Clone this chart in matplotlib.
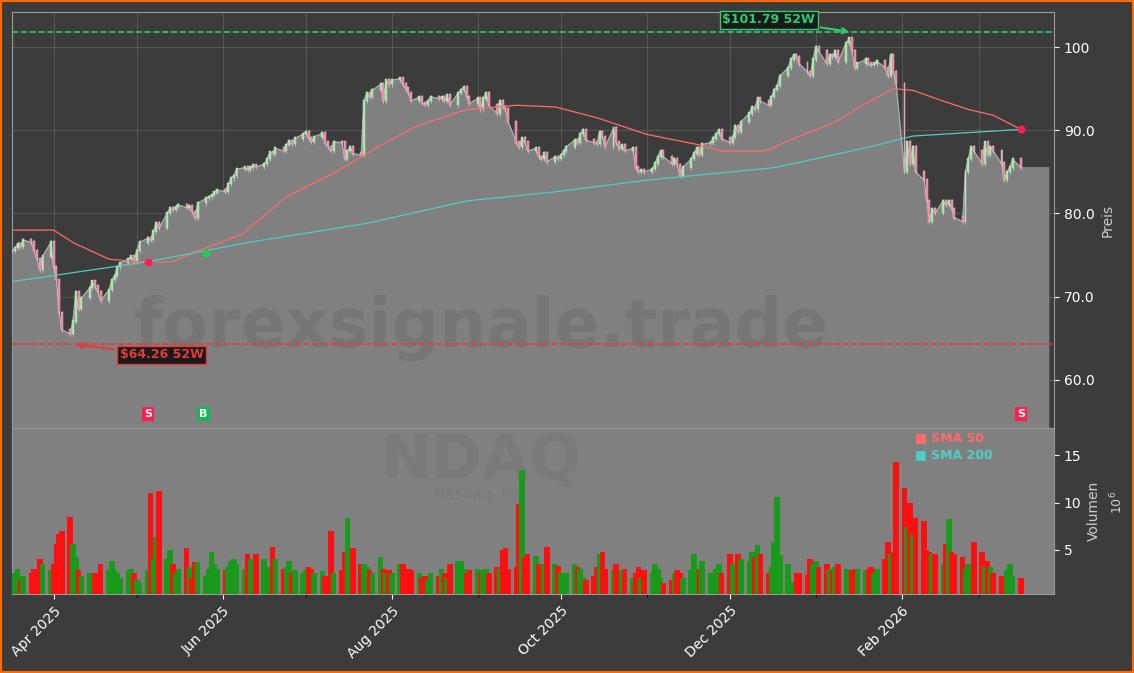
import matplotlib
matplotlib.use("Agg")
import matplotlib.pyplot as plt
import matplotlib.dates as mdates
import numpy as np
import pandas as pd

# Daily closes, Mar 17 2025 .. Mar 2026
closes = [
    75.5, 75.8, 76.3, 76.0, 76.8, 76.5, 75.5, 74.5, 73.2, 74.8,
    76.5, 73.5, 72.0, 68.0, 66.0, 65.5, 67.0, 70.5, 68.5, 69.8,
    71.0, 71.8, 71.2, 70.5, 69.5, 70.8, 72.0, 72.5, 73.5, 74.0,
    74.5, 74.8, 74.2, 75.5, 76.5, 77.0, 76.8, 77.8, 78.8, 78.2,
    80.0, 80.6, 80.4, 80.8, 81.0, 80.7, 80.9, 80.2, 79.5, 81.2,
    81.8, 82.0, 82.2, 82.5, 82.8, 82.6, 83.5, 84.2, 84.5, 85.3,
    85.5, 85.2, 85.5, 85.8, 85.6, 85.9, 86.5, 87.3, 87.2, 87.8,
    87.5, 88.2, 88.7, 88.3, 89.0, 89.5, 89.8, 89.0, 88.6, 89.2,
    89.6, 88.5, 88.0, 87.5, 88.6, 88.5, 86.5, 87.5, 88.0, 87.2,
    87.0, 93.5, 94.5, 94.0, 94.8, 95.5, 93.5, 96.0, 95.5, 96.0,
    96.2, 95.5, 95.0, 94.5, 93.5, 94.0, 93.3, 93.0, 93.5, 94.0,
    93.8, 94.0, 93.5, 94.2, 93.0, 94.5, 94.8, 95.2, 94.0, 93.2,
    93.8, 92.5, 93.8, 94.5, 93.0, 92.0, 93.5, 92.8, 92.5, 91.0,
    88.5, 88.0, 89.0, 88.5, 87.5, 87.8, 86.8, 86.5, 87.2, 86.2,
    86.8, 86.5, 87.0, 87.5, 88.0, 88.8, 88.5, 89.5, 90.0, 88.8,
    88.5, 88.3, 89.8, 89.2, 88.0, 90.2, 88.5, 87.8, 88.2, 87.5,
    87.8, 85.5, 85.0, 85.2, 85.0, 85.3, 86.0, 86.8, 87.5, 86.8,
    86.0, 86.5, 85.8, 84.5, 85.5, 86.5, 87.2, 87.8, 87.0, 88.3,
    88.5, 89.0, 89.5, 90.0, 89.0, 88.5, 89.2, 90.5, 89.8, 91.0,
    92.0, 92.8, 92.5, 93.8, 93.5, 93.0, 94.0, 94.8, 95.3, 96.5,
    97.5, 98.5, 99.0, 98.8, 98.0, 97.0, 96.5, 98.5, 100.0, 99.5,
    98.0, 99.0, 98.8, 99.5, 98.2, 100.5, 101.0, 99.5, 97.5, 98.0,
    98.5, 98.0, 97.8, 98.0, 98.3, 97.5, 96.5, 99.0, 97.0, 95.5,
    85.0, 88.5, 86.0, 88.0, 85.0, 84.0, 81.5, 79.0, 80.5, 80.0,
    81.5, 81.0, 81.5, 80.5, 79.5, 79.0, 85.0, 86.5, 88.0, 87.5,
    86.0, 88.5, 87.0, 88.0, 87.5, 86.0, 84.0, 85.0, 85.5, 86.5, 85.5,
]

# Volume in millions
volumes = [
    2.5, 2.2, 3.0, 1.8, 2.2, 2.5, 3.0, 2.5, 4.0, 3.5,
    2.8, 3.5, 5.6, 6.7, 7.0, 8.5, 5.6, 4.2, 2.8, 2.2,
    2.5, 2.0, 2.5, 2.2, 3.5, 2.8, 3.8, 2.8, 2.5, 2.0,
    2.8, 3.0, 2.5, 1.8, 1.5, 2.8, 11.0, 4.0, 6.3, 11.2,
    4.0, 5.0, 3.5, 2.5, 3.0, 5.2, 3.2, 2.0, 3.7, 3.7,
    2.2, 3.0, 4.8, 3.5, 3.0, 2.8, 3.2, 3.8, 4.0, 3.5,
    3.0, 4.5, 4.0, 3.5, 4.5, 4.0, 3.2, 2.8, 5.3, 4.0,
    3.0, 3.2, 3.8, 2.5, 2.8, 2.5, 2.8, 3.2, 3.0, 2.5,
    2.7, 2.2, 2.0, 7.0, 2.5, 2.8, 4.8, 8.4, 5.2, 5.2,
    3.5, 3.5, 3.2, 2.8, 2.5, 4.2, 3.0, 2.5, 2.8, 2.5,
    3.5, 3.5, 2.5, 3.0, 2.8, 2.5, 2.0, 2.2, 1.8, 2.5,
    2.2, 3.0, 2.5, 2.0, 3.5, 3.8, 3.8, 3.0, 2.5, 2.8,
    3.0, 2.5, 2.8, 3.0, 2.5, 3.2, 3.0, 5.0, 5.2, 3.0,
    3.2, 9.8, 13.4, 4.2, 4.5, 4.3, 3.5, 2.8, 3.5, 5.3,
    3.5, 3.3, 2.5, 2.0, 2.5, 3.5, 3.2, 3.0, 2.0, 1.8,
    2.2, 3.2, 4.5, 4.8, 3.0, 2.8, 3.5, 2.8, 2.8, 3.0,
    2.0, 2.5, 3.2, 2.0, 2.8, 2.5, 3.5, 3.0, 2.0, 1.5,
    1.8, 2.5, 2.8, 2.5, 2.0, 2.8, 4.5, 3.0, 2.8, 3.8,
    2.5, 2.3, 3.0, 3.5, 2.5, 4.5, 3.5, 2.6, 4.5, 4.0,
    3.8, 4.8, 4.2, 5.5, 4.5, 2.5, 3.2, 5.8, 10.6, 4.4,
    3.5, 1.6, 1.5, 2.5, 2.5, 2.3, 4.0, 3.5, 3.8, 3.2,
    3.5, 3.0, 2.8, 3.2, 3.5, 3.0, 2.2, 2.8, 3.0, 3.0,
    2.8, 3.0, 3.2, 2.5, 3.0, 4.0, 5.8, 4.5, 4.8, 14.3,
    11.5, 7.4, 10.0, 6.6, 8.4, 8.0, 5.0, 4.8, 4.5, 4.5,
    3.5, 5.6, 8.3, 4.8, 4.5, 4.2, 3.0, 3.5, 3.3, 5.8,
    4.7, 3.3, 3.8, 3.2, 2.5, 2.2, 2.0, 2.8, 3.5, 2.2, 2.0,
]

# Moving averages
sma50_dates = ["2025-03-17", "2025-04-01", "2025-04-08", "2025-04-21", "2025-05-05",
               "2025-05-14", "2025-05-23", "2025-06-08", "2025-06-24", "2025-07-12",
               "2025-07-27", "2025-08-10", "2025-08-28", "2025-09-15", "2025-09-29",
               "2025-10-14", "2025-11-01", "2025-11-19", "2025-11-28", "2025-12-14",
               "2025-12-24", "2026-01-08", "2026-01-18", "2026-01-29", "2026-02-05",
               "2026-02-16", "2026-02-25", "2026-03-06", "2026-03-16"]
sma50_vals = [78.0, 78.0, 76.5, 74.5, 74.1, 74.2, 75.5, 77.5, 82.0, 85.0,
              88.0, 90.5, 92.5, 93.0, 92.8, 91.5, 89.5, 88.3, 87.5, 87.5,
              89.0, 91.0, 93.0, 95.0, 94.8, 93.5, 92.5, 91.8, 90.1]
sma200_dates = ["2025-03-17", "2025-05-05", "2025-06-10", "2025-07-23", "2025-08-28",
                "2025-09-29", "2025-11-01", "2025-12-17", "2026-01-18", "2026-02-05",
                "2026-03-16"]
sma200_vals = [71.8, 74.2, 76.5, 78.8, 81.5, 82.6, 84.0, 85.5, 87.8, 89.3, 90.1]

high_52w = 101.79
low_52w = 64.26

dates = pd.bdate_range("2025-03-17", periods=len(closes))
x = mdates.date2num(dates)
c = np.array(closes)
o = np.concatenate([[c[0]], c[:-1]])
v = np.array(volumes)
up = c >= o

BG = "#3c3c3c"
fig = plt.figure(figsize=(11.34, 6.73), dpi=100, facecolor=BG)
fig.patches.append(plt.Rectangle((0, 0), 1, 1, transform=fig.transFigure,
                                 fill=False, edgecolor="#ff6a00", linewidth=3))
ax = fig.add_axes([0.0106, 0.364, 0.919, 0.618], facecolor=BG)
axv = fig.add_axes([0.0106, 0.1174, 0.919, 0.2466], facecolor="#808080", sharex=ax)

# area under price
xf = np.append(x, x[-1] + 10)
cf = np.append(c, c[-1])
ax.fill_between(xf, cf, 0, color="#808080", zorder=1)
ax.plot(x, c, color="#b0b0b0", lw=0.8, zorder=2)

# candles
body_col = np.where(up, "#90ee90", "#ff6f96")
ax.vlines(x, np.minimum(o, c) - 0.25, np.maximum(o, c) + 0.25, color="#cfcfcf", lw=0.5, zorder=3)
ax.bar(x, np.abs(c - o) + 0.15, bottom=np.minimum(o, c), width=0.7,
       color=body_col, edgecolor="#e0e0e0", linewidth=0.3, zorder=4)

# SMAs
s50x = mdates.date2num(pd.to_datetime(sma50_dates))
s200x = mdates.date2num(pd.to_datetime(sma200_dates))
ax.plot(s50x, sma50_vals, color="#ff6b6b", lw=0.9, zorder=5)
ax.plot(s200x, sma200_vals, color="#4ecdc4", lw=0.9, zorder=5)
ax.scatter(mdates.date2num(pd.to_datetime(["2025-05-05", "2026-03-16"])), [74.1, 90.1],
           color="#ff1e50", s=22, zorder=6)
ax.scatter(mdates.date2num(pd.to_datetime(["2025-05-26"])), [75.3], color="#22cc55", s=22, zorder=6)

# 52 week lines
ax.axhline(high_52w, color="#2ecc71", ls="--", lw=1.2, zorder=5)
ax.axhline(low_52w, color="#e03c3c", ls="--", lw=1.2, zorder=5)
ax.annotate(f"${high_52w:.2f} 52W", xy=(mdates.date2num(pd.Timestamp("2026-01-14")), high_52w),
            xytext=(mdates.date2num(pd.Timestamp("2025-12-15")), 103.3),
            color="#2ecc71", fontsize=9, fontweight="bold", ha="center", va="center",
            bbox=dict(boxstyle="square,pad=0.2", fc="#1a1a1a", ec="#2ecc71"),
            arrowprops=dict(arrowstyle="->", color="#2ecc71", lw=1.5), zorder=7)
ax.annotate(f"${low_52w:.2f} 52W", xy=(mdates.date2num(pd.Timestamp("2025-04-08")), low_52w),
            xytext=(mdates.date2num(pd.Timestamp("2025-05-10")), 63.0),
            color="#e03c3c", fontsize=9, fontweight="bold", ha="center", va="center",
            bbox=dict(boxstyle="square,pad=0.2", fc="#1a1a1a", ec="#e03c3c"),
            arrowprops=dict(arrowstyle="->", color="#e03c3c", lw=1.5), zorder=7)

# signals
for d, s, col in [("2025-05-05", "S", "#ff1e50"), ("2025-05-25", "B", "#11bb55"),
                  ("2026-03-16", "S", "#ff1e50")]:
    ax.text(mdates.date2num(pd.Timestamp(d)), 55.9, s, color="white", fontsize=8,
            fontweight="bold", ha="center", va="center", zorder=7,
            bbox=dict(boxstyle="square,pad=0.2", fc=col, ec="none"))

ax.text(0.45, 0.24, "forexsignale.trade", transform=ax.transAxes, fontsize=48,
        fontweight="bold", color="#606060", alpha=0.3, ha="center", va="center", zorder=2)

ax.set_ylim(54.2, 104.2)
ax.set_xlim(mdates.date2num(pd.Timestamp("2025-03-17")), mdates.date2num(pd.Timestamp("2026-03-28")))
ax.yaxis.tick_right()
ax.yaxis.set_label_position("right")
ax.set_yticks([60, 70, 80, 90, 100])
ax.set_yticklabels(["60.0", "70.0", "80.0", "90.0", "100"])
ax.set_ylabel("Preis", color="#cccccc")
ax.tick_params(colors="white", labelsize=10)
ax.tick_params(axis="x", labelbottom=False)
ax.xaxis.set_minor_locator(mdates.MonthLocator())
ax.grid(True, which="both", color="#888888", alpha=0.35, lw=0.8)
for sp in ax.spines.values():
    sp.set_color("#999999")

# volume
axv.bar(x, v, width=2.0, color=np.where(up, "#1a9a1a", "#ff1010"), zorder=3)
axv.set_ylim(0.3, 17.9)
axv.yaxis.tick_right()
axv.yaxis.set_label_position("right")
axv.set_yticks([5, 10, 15])
axv.set_ylabel("Volumen", color="#cccccc")
axv.text(1.052, 0.55, "10$^6$", transform=axv.transAxes, rotation=90, color="#cccccc",
         fontsize=9, va="center")
axv.text(0.45, 0.8, "NDAQ", transform=axv.transAxes, fontsize=44, fontweight="bold",
         color="#7a7a7a", ha="center", va="center", zorder=1)
axv.text(0.45, 0.6, "Nasdaq, Inc.", transform=axv.transAxes, fontsize=11,
         color="#7a7a7a", ha="center", va="center", zorder=1)
axv.text(0.866, 0.94, "■ SMA 50", transform=axv.transAxes, color="#ff6b6b", fontsize=9,
         fontweight="bold", va="center")
axv.text(0.866, 0.84, "■ SMA 200", transform=axv.transAxes, color="#4ecdc4", fontsize=9,
         fontweight="bold", va="center")
axv.tick_params(colors="white", labelsize=10)
axv.xaxis.set_major_locator(mdates.MonthLocator(bymonth=[2, 4, 6, 8, 10, 12]))
axv.xaxis.set_minor_locator(mdates.MonthLocator())
axv.xaxis.set_major_formatter(mdates.DateFormatter("%b %Y"))
plt.setp(axv.get_xticklabels(), rotation=45, ha="right", rotation_mode="anchor")
for sp in axv.spines.values():
    sp.set_color("#999999")

fig.savefig("out.png", dpi=100, facecolor=BG)
